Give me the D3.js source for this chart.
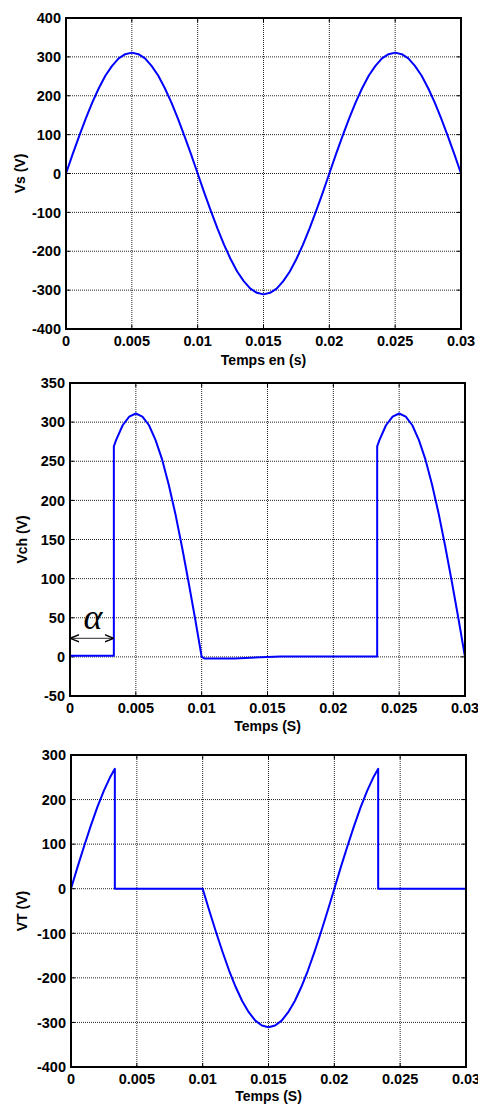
<!DOCTYPE html>
<html>
<head>
<meta charset="utf-8">
<script src="https://cdn.jsdelivr.net/npm/d3@7"></script>
<style>
  body { margin: 0; background: #fff; }
  text { font-family: "Liberation Sans", Arial, sans-serif; font-weight: bold; }
</style>
</head>
<body>
<svg id="chart" width="478" height="1104"></svg>
<script>
// time ticks shared by the three plots
const xTicks = [0, 0.005, 0.01, 0.015, 0.02, 0.025, 0.03];
const xTickLabels = ["0", "0.005", "0.01", "0.015", "0.02", "0.025", "0.03"];

// source voltage Vs, sampled every 0.5 ms
const vsTime = [0, 0.0005, 0.001, 0.0015, 0.002, 0.0025, 0.003, 0.0035, 0.004, 0.0045,
  0.005, 0.0055, 0.006, 0.0065, 0.007, 0.0075, 0.008, 0.0085, 0.009, 0.0095,
  0.01, 0.0105, 0.011, 0.0115, 0.012, 0.0125, 0.013, 0.0135, 0.014, 0.0145,
  0.015, 0.0155, 0.016, 0.0165, 0.017, 0.0175, 0.018, 0.0185, 0.019, 0.0195,
  0.02, 0.0205, 0.021, 0.0215, 0.022, 0.0225, 0.023, 0.0235, 0.024, 0.0245,
  0.025, 0.0255, 0.026, 0.0265, 0.027, 0.0275, 0.028, 0.0285, 0.029, 0.0295, 0.03];
const vsValues = [0, 49, 96, 141, 183, 220, 252, 277, 296, 307,
  311, 307, 296, 277, 252, 220, 183, 141, 96, 49,
  0, -49, -96, -141, -183, -220, -252, -277, -296, -307,
  -311, -307, -296, -277, -252, -220, -183, -141, -96, -49,
  0, 49, 96, 141, 183, 220, 252, 277, 296, 307,
  311, 307, 296, 277, 252, 220, 183, 141, 96, 49, 0];

// load voltage Vch (firing angle alpha = 3.33 ms)
const alphaTime = 0.00333;
const vchTime = [0, 0.00333, 0.00333, 0.0035, 0.004, 0.0045, 0.005, 0.0055, 0.006, 0.0065,
  0.007, 0.0075, 0.008, 0.0085, 0.009, 0.0095, 0.01, 0.0102, 0.0125, 0.016,
  0.02333, 0.02333, 0.0235, 0.024, 0.0245, 0.025, 0.0255, 0.026, 0.0265, 0.027,
  0.0275, 0.028, 0.0285, 0.029, 0.0295, 0.03];
const vchValues = [1.5, 1.5, 269, 277, 296, 307, 311, 307, 296, 277,
  252, 220, 183, 141, 96, 49, 0, -2, -2, 0.5,
  0.5, 269, 277, 296, 307, 311, 307, 296, 277, 252,
  220, 183, 141, 96, 49, 0];

// thyristor voltage VT
const vtTime = [0, 0.0005, 0.001, 0.0015, 0.002, 0.0025, 0.003, 0.00333, 0.00333, 0.01,
  0.0105, 0.011, 0.0115, 0.012, 0.0125, 0.013, 0.0135, 0.014, 0.0145, 0.015,
  0.0155, 0.016, 0.0165, 0.017, 0.0175, 0.018, 0.0185, 0.019, 0.0195, 0.02,
  0.0205, 0.021, 0.0215, 0.022, 0.0225, 0.023, 0.02333, 0.02333, 0.03];
const vtValues = [0, 49, 96, 141, 183, 220, 252, 269, 0, 0,
  -49, -96, -141, -183, -220, -252, -277, -296, -307, -311,
  -307, -296, -277, -252, -220, -183, -141, -96, -49, 0,
  49, 96, 141, 183, 220, 252, 269, 0, 0];

const panels = [
  { time: vsTime, values: vsValues, yTicks: [-400, -300, -200, -100, 0, 100, 200, 300, 400],
    ylabel: "Vs (V)", xlabel: "Temps en (s)",
    left: 66, right: 461, top: 18, bottom: 329, ylabelX: 25, xlabelY: 365 },
  { time: vchTime, values: vchValues, yTicks: [-50, 0, 50, 100, 150, 200, 250, 300, 350],
    ylabel: "Vch (V)", xlabel: "Temps (S)",
    left: 70, right: 465, top: 383, bottom: 696, ylabelX: 27, xlabelY: 731, alpha: true },
  { time: vtTime, values: vtValues, yTicks: [-400, -300, -200, -100, 0, 100, 200, 300],
    ylabel: "VT (V)", xlabel: "Temps (S)",
    left: 71, right: 466, top: 755, bottom: 1067, ylabelX: 27, xlabelY: 1101 }
];

const svg = d3.select("#chart");

const defs = svg.append("defs");
defs.append("marker")
  .attr("id", "arrow")
  .attr("viewBox", "0 0 10 10")
  .attr("refX", 9).attr("refY", 5)
  .attr("markerWidth", 9).attr("markerHeight", 9)
  .attr("markerUnits", "userSpaceOnUse")
  .attr("orient", "auto-start-reverse")
  .append("path")
  .attr("d", "M0,1 L10,5 L0,9")
  .attr("fill", "none")
  .attr("stroke", "#000")
  .attr("stroke-width", 1.6);

panels.forEach((p) => {
  const x = d3.scaleLinear().domain([0, 0.03]).range([p.left, p.right]);
  const y = d3.scaleLinear().domain(d3.extent(p.yTicks)).range([p.bottom, p.top]);
  const g = svg.append("g");

  // dotted grid
  g.selectAll(".vgrid")
    .data(xTicks.slice(1, -1))
    .join("line")
    .attr("x1", (d) => x(d)).attr("x2", (d) => x(d))
    .attr("y1", p.top).attr("y2", p.bottom)
    .attr("stroke", "#000").attr("stroke-width", 1)
    .attr("stroke-dasharray", "1,1").attr("opacity", 0.85);
  g.selectAll(".hgrid")
    .data(p.yTicks.slice(1, -1))
    .join("line")
    .attr("x1", p.left).attr("x2", p.right)
    .attr("y1", (d) => y(d)).attr("y2", (d) => y(d))
    .attr("stroke", "#000").attr("stroke-width", 1)
    .attr("stroke-dasharray", "1,1").attr("opacity", 0.85);

  // inward ticks on all sides
  const tl = 4;
  g.selectAll(".xt")
    .data(xTicks)
    .join("path")
    .attr("d", (d) => `M${x(d)},${p.bottom}v${-tl}M${x(d)},${p.top}v${tl}`)
    .attr("stroke", "#000").attr("stroke-width", 1);
  g.selectAll(".yt")
    .data(p.yTicks)
    .join("path")
    .attr("d", (d) => `M${p.left},${y(d)}h${tl}M${p.right},${y(d)}h${-tl}`)
    .attr("stroke", "#000").attr("stroke-width", 1);

  // curve
  const line = d3.line().x((d) => x(d[0])).y((d) => y(d[1]));
  g.append("path")
    .datum(d3.zip(p.time, p.values))
    .attr("d", line)
    .attr("fill", "none")
    .attr("stroke", "#0000ff")
    .attr("stroke-width", 2)
    .attr("stroke-linejoin", "round");

  // box
  g.append("rect")
    .attr("x", p.left).attr("y", p.top)
    .attr("width", p.right - p.left).attr("height", p.bottom - p.top)
    .attr("fill", "none").attr("stroke", "#000").attr("stroke-width", 2);

  // tick labels
  g.selectAll(".xl")
    .data(xTicks)
    .join("text")
    .attr("x", (d) => x(d)).attr("y", p.bottom + 16.5)
    .attr("text-anchor", "middle")
    .attr("font-size", 14.5)
    .text((d, i) => xTickLabels[i]);
  g.selectAll(".yl")
    .data(p.yTicks)
    .join("text")
    .attr("x", p.left - 5).attr("y", (d) => y(d))
    .attr("dy", "0.36em")
    .attr("text-anchor", "end")
    .attr("font-size", 14.5)
    .text((d) => d);

  // axis titles
  g.append("text")
    .attr("x", (p.left + p.right) / 2).attr("y", p.xlabelY)
    .attr("text-anchor", "middle").attr("font-size", 14)
    .text(p.xlabel);
  g.append("text")
    .attr("transform", `translate(${p.ylabelX},${(p.top + p.bottom) / 2}) rotate(-90)`)
    .attr("text-anchor", "middle").attr("font-size", 14)
    .text(p.ylabel);

  if (p.alpha) {
    const ay = y(25) + 1;
    g.append("line")
      .attr("x1", x(0) + 1).attr("x2", x(alphaTime) - 1)
      .attr("y1", ay).attr("y2", ay)
      .attr("stroke", "#555").attr("stroke-width", 1.3)
      .attr("marker-start", "url(#arrow)")
      .attr("marker-end", "url(#arrow)");
    g.append("text")
      .attr("x", (x(0) + x(alphaTime)) / 2 + 1).attr("y", ay - 9)
      .attr("text-anchor", "middle")
      .style("font-family", "'Liberation Serif', 'DejaVu Serif', serif")
      .style("font-weight", "normal")
      .style("font-style", "italic")
      .attr("font-size", 36)
      .text("α");
  }
});
</script>
</body>
</html>
